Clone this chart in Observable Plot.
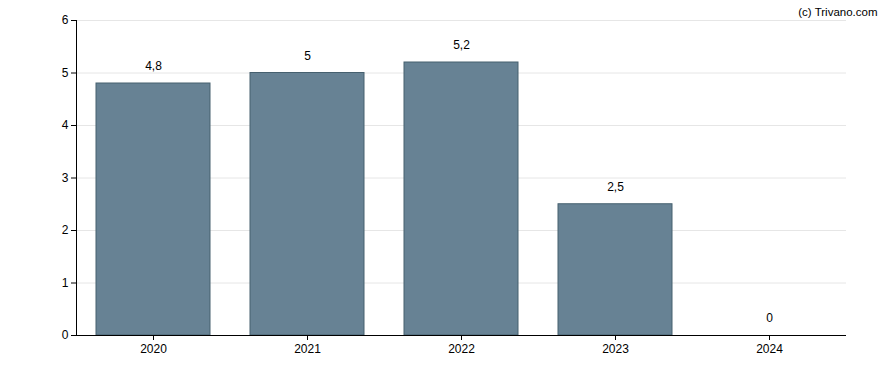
<!DOCTYPE html>
<html>
<head>
<meta charset="utf-8">
<script src="https://cdn.jsdelivr.net/npm/d3@7"></script>
<script src="https://cdn.jsdelivr.net/npm/@observablehq/plot@0.6"></script>
<style>
  html, body { margin: 0; padding: 0; background: #fff; }
  #chart { width: 888px; height: 370px; }
  svg { font-family: "Liberation Sans", Arial, sans-serif; }
</style>
</head>
<body>
<div id="chart"></div>
<script>
const years = ["2020", "2021", "2022", "2023", "2024"];
const values = [4.8, 5, 5.2, 2.5, 0];
const yTicks = [0, 1, 2, 3, 4, 5, 6];
const credit = "(c) Trivano.com";

const data = years.map((y, i) => ({year: y, value: values[i]}));
const fmt = v => String(v).replace(".", ",");

const chart = Plot.plot({
  width: 888,
  height: 370,
  marginLeft: 76,
  marginRight: 42,
  marginTop: 20,
  marginBottom: 35,
  style: {fontFamily: "'Liberation Sans', Arial, sans-serif", fontSize: "12px", color: "#000", background: "#fff"},
  x: {domain: years, paddingInner: 0.26, paddingOuter: 0.13, label: null},
  y: {domain: [0, 6], label: null},
  marks: [
    Plot.gridY(yTicks, {stroke: "#e6e6e6", strokeOpacity: 1}),
    Plot.barY(data, {x: "year", y: "value", fill: "#678294", stroke: "#46606f", strokeWidth: 1}),
    Plot.text(data, {x: "year", y: "value", text: d => fmt(d.value), dy: -17, fill: "#000", fontSize: 12}),
    Plot.axisY(yTicks, {tickSize: 5, tickPadding: 3, fontSize: 12, fill: "#000", stroke: "#000", strokeOpacity: 1, tickFormat: d => String(d), label: null}),
    Plot.frame({anchor: "left", stroke: "#000", strokeOpacity: 1}),
    Plot.axisX({tickSize: 5, tickPadding: 4, fontSize: 12, fill: "#000", stroke: "#000", strokeOpacity: 1, label: null}),
    Plot.ruleY([0], {stroke: "#000"}),
    Plot.text([credit], {frameAnchor: "top-right", dx: 31, dy: -13, fontSize: 11.5, fill: "#000", textAnchor: "end"})
  ]
});
document.getElementById("chart").appendChild(chart);
</script>
</body>
</html>
